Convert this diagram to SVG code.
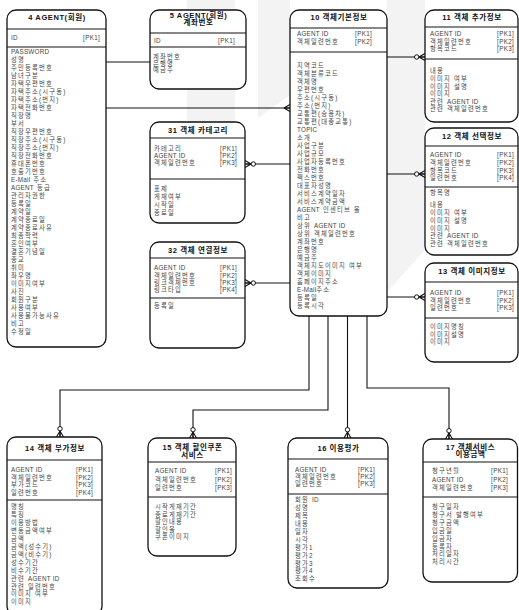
<svg xmlns="http://www.w3.org/2000/svg" width="519" height="610" viewBox="0 0 519 610">
<style>
.bx{fill:#fff;stroke:#111;stroke-width:1.3}
.ln{stroke:#111;stroke-width:1.1;fill:none}
.t{font-family:"Liberation Sans","Noto Sans CJK KR",sans-serif;font-size:7.5px;font-weight:bold;fill:#111;text-anchor:middle;letter-spacing:0.6px}
.a{font-family:"Liberation Sans","Noto Sans CJK KR",sans-serif;font-size:6.3px;fill:#444;letter-spacing:1.2px}
.e{letter-spacing:0.25px}
.k{font-family:"Liberation Sans","Noto Sans CJK KR",sans-serif;font-size:6.3px;fill:#444;text-anchor:end;letter-spacing:0.3px}
.c{stroke:#111;stroke-width:1.1;fill:none}
.wm{fill:#f3f3f3}
</style>
<defs>
<g id="cf"><path class="c" d="M-6,0 L0,-3.5 M-6,0 L0,0 M-6,0 L0,3.5"/><circle cx="-8.3" cy="0" r="2.2" fill="#fff" stroke="#111" stroke-width="1"/></g>
<g id="cfn"><path class="c" d="M-6,0 L0,-3.5 M-6,0 L0,0 M-6,0 L0,3.5"/></g>
</defs>
<rect width="519" height="610" fill="#fff"/>
<g id="watermark">
<rect class="wm" x="187" y="-12" width="48" height="170" rx="12"/>
<polygon class="wm" points="258,0 290,0 290,95 258,118"/>
<polygon class="wm" points="387,0 425,0 425,250 387,292"/>
</g>
<g id="connectors">
<path class="ln" d="M106,62 H150"/>
<path class="ln" d="M106,108 H290"/><use href="#cfn" transform="translate(290,108)"/>
<path class="ln" d="M245,164 H290"/><use href="#cf" transform="translate(245,164) rotate(180)"/>
<path class="ln" d="M245,283 H290"/><use href="#cf" transform="translate(245,283) rotate(180)"/>
<path class="ln" d="M387,57 H425"/><use href="#cf" transform="translate(425,57)"/>
<path class="ln" d="M387,174 H425"/><use href="#cf" transform="translate(425,174)"/>
<path class="ln" d="M387,297 H425"/><use href="#cf" transform="translate(425,297)"/>
<path class="ln" d="M309,316 V390 H60 V437"/><use href="#cf" transform="translate(60,437) rotate(90)"/>
<path class="ln" d="M328,316 V410 H193 V438"/><use href="#cf" transform="translate(193,438) rotate(90)"/>
<path class="ln" d="M347.5,316 V438"/><use href="#cf" transform="translate(347.5,438) rotate(90)"/>
<path class="ln" d="M367,316 V388 H449 V439"/><use href="#cf" transform="translate(449,439) rotate(90)"/>
</g>
<g id="n4">
<rect class="bx" x="7" y="10" width="99" height="337" rx="9"/>
<text class="t" x="57" y="20">4  AGENT(회원)</text>
<path class="ln" d="M7,29 H106 M7,47 H106"/>
<text class="a" x="11" y="40.3"><tspan class="e">ID</tspan></text><text class="k" x="100" y="40.3">[PK1]</text>
<text class="a" x="11" y="54.3"><tspan class="e">PASSWORD</tspan></text>
<text class="a" x="11" y="62.3">성명</text>
<text class="a" x="11" y="70.3">주민등록번호</text>
<text class="a" x="11" y="78.3">남녀구분</text>
<text class="a" x="11" y="86.3">자택우편번호</text>
<text class="a" x="11" y="94.3">자택주소(시구동)</text>
<text class="a" x="11" y="102.3">자택주소(번지)</text>
<text class="a" x="11" y="110.3">자택전화번호</text>
<text class="a" x="11" y="118.3">직장명</text>
<text class="a" x="11" y="126.3">부서</text>
<text class="a" x="11" y="134.3">직장우편번호</text>
<text class="a" x="11" y="142.3">직장주소(시구동)</text>
<text class="a" x="11" y="150.3">직장주소(번지)</text>
<text class="a" x="11" y="158.3">직장전화번호</text>
<text class="a" x="11" y="166.3">휴대폰번호</text>
<text class="a" x="11" y="174.3">호출기번호</text>
<text class="a" x="11" y="182.3"><tspan class="e">E-Mail</tspan> 주소</text>
<text class="a" x="11" y="190.3"><tspan class="e">AGENT</tspan> 등급</text>
<text class="a" x="11" y="198.3">관리자권한</text>
<text class="a" x="11" y="206.3">등록일</text>
<text class="a" x="11" y="214.3">계약일</text>
<text class="a" x="11" y="222.3">계약종료일</text>
<text class="a" x="11" y="230.3">계약종료사유</text>
<text class="a" x="11" y="238.3">최종학력</text>
<text class="a" x="11" y="246.3">혼인여부</text>
<text class="a" x="11" y="254.3">결혼기념일</text>
<text class="a" x="11" y="262.3">종교</text>
<text class="a" x="11" y="270.3">취미</text>
<text class="a" x="11" y="278.3">좌우명</text>
<text class="a" x="11" y="286.3">이미지여부</text>
<text class="a" x="11" y="294.3">사진</text>
<text class="a" x="11" y="302.3">회원구분</text>
<text class="a" x="11" y="310.3">사용여부</text>
<text class="a" x="11" y="318.3">사용불가능사유</text>
<text class="a" x="11" y="326.3">비고</text>
<text class="a" x="11" y="334.3">수정일</text>
</g>
<g id="n5">
<rect class="bx" x="150" y="10" width="96" height="79" rx="9"/>
<text class="t" x="198.5" y="17.5">5  AGENT(회원)</text>
<text class="t" x="198.5" y="25">계좌번호</text>
<path class="ln" d="M150,33 H246 M150,47 H246"/>
<text class="a" x="154" y="43.3"><tspan class="e">ID</tspan></text><text class="k" x="235" y="43.3">[PK1]</text>
<text class="a" x="153" y="59.3">계좌번호</text>
<text class="a" x="153" y="65.8">은행명</text>
<text class="a" x="153" y="72.3">예금주</text>
</g>
<g id="n10">
<rect class="bx" x="290" y="10" width="97" height="306" rx="9"/>
<text class="t" x="339" y="19.5">10  객체기본정보</text>
<path class="ln" d="M290,28 H387 M290,52 H387"/>
<text class="a" x="297" y="36.3"><tspan class="e">AGENT ID</tspan></text><text class="k" x="372" y="36.3">[PK1]</text>
<text class="a" x="297" y="44.3">객체일련번호</text><text class="k" x="372" y="44.3">[PK2]</text>
<text class="a" x="297" y="68.3">지역코드</text>
<text class="a" x="297" y="76.3">객체분류코드</text>
<text class="a" x="297" y="84.3">객체명</text>
<text class="a" x="297" y="92.3">우편번호</text>
<text class="a" x="297" y="100.3">주소(시구동)</text>
<text class="a" x="297" y="108.3">주소(번지)</text>
<text class="a" x="297" y="116.3">교통편(승용차)</text>
<text class="a" x="297" y="124.3">교통편(대중교통)</text>
<text class="a" x="297" y="132.3"><tspan class="e">TOPIC</tspan></text>
<text class="a" x="297" y="140.3">소개</text>
<text class="a" x="297" y="148.3">사업구분</text>
<text class="a" x="297" y="156.3">사업규모</text>
<text class="a" x="297" y="164.3">사업자등록번호</text>
<text class="a" x="297" y="172.3">전화번호</text>
<text class="a" x="297" y="180.3">팩스번호</text>
<text class="a" x="297" y="188.3">대표자성명</text>
<text class="a" x="297" y="196.3">서비스계약일자</text>
<text class="a" x="297" y="204.3">서비스계약금액</text>
<text class="a" x="297" y="212.3"><tspan class="e">AGENT</tspan> 인센티브 율</text>
<text class="a" x="297" y="220.3">비고</text>
<text class="a" x="297" y="228.3">상위 <tspan class="e">AGENT ID</tspan></text>
<text class="a" x="297" y="236.3">상위 객체일련번호</text>
<text class="a" x="297" y="244.3">계좌번호</text>
<text class="a" x="297" y="252.3">은행명</text>
<text class="a" x="297" y="260.3">예금주</text>
<text class="a" x="297" y="268.3">객체지도이미지 여부</text>
<text class="a" x="297" y="276.3">객체이미지</text>
<text class="a" x="297" y="284.3">홈페이지주소</text>
<text class="a" x="297" y="292.3"><tspan class="e">E-Mail</tspan>주소</text>
<text class="a" x="297" y="300.3">등록일</text>
<text class="a" x="297" y="308.3">등록시각</text>
</g>
<g id="n11">
<rect class="bx" x="425" y="10" width="93" height="112" rx="9"/>
<text class="t" x="472" y="19.5">11 객체 추가정보</text>
<path class="ln" d="M425,27 H518 M425,59 H518"/>
<text class="a" x="430" y="36.3"><tspan class="e">AGENT ID</tspan></text><text class="k" x="514" y="36.3">[PK1]</text>
<text class="a" x="430" y="43.8">객체일련번호</text><text class="k" x="514" y="43.8">[PK2]</text>
<text class="a" x="430" y="51.3">항목코드</text><text class="k" x="514" y="51.3">[PK3]</text>
<text class="a" x="430" y="73.3">내용</text>
<text class="a" x="430" y="80.9">이미지 여부</text>
<text class="a" x="430" y="88.5">이미지 설명</text>
<text class="a" x="430" y="96.1">이미지</text>
<text class="a" x="430" y="103.7">관련 <tspan class="e">AGENT ID</tspan></text>
<text class="a" x="430" y="111.3">관련 객체일련번호</text>
</g>
<g id="n12">
<rect class="bx" x="425" y="128" width="93" height="127" rx="9"/>
<text class="t" x="472" y="138.5">12 객체 선택정보</text>
<path class="ln" d="M425,146 H518 M425,187 H518"/>
<text class="a" x="430" y="157.3"><tspan class="e">AGENT ID</tspan></text><text class="k" x="514" y="157.3">[PK1]</text>
<text class="a" x="430" y="165">객체일련번호</text><text class="k" x="514" y="165">[PK2]</text>
<text class="a" x="430" y="172.7">항목코드</text><text class="k" x="514" y="172.7">[PK3]</text>
<text class="a" x="430" y="180.3">일련번호</text><text class="k" x="514" y="180.3">[PK4]</text>
<text class="a" x="430" y="195.3">항목명</text>
<text class="a" x="430" y="207.3">내용</text>
<text class="a" x="430" y="215.3">이미지 여부</text>
<text class="a" x="430" y="223.3">이미지 설명</text>
<text class="a" x="430" y="230.8">이미지</text>
<text class="a" x="430" y="238.3">관련 <tspan class="e">AGENT ID</tspan></text>
<text class="a" x="430" y="245.8">관련 객체일련번호</text>
</g>
<g id="n13">
<rect class="bx" x="425" y="263" width="93" height="99" rx="9"/>
<text class="t" x="472" y="273.5">13 객체 이미지정보</text>
<path class="ln" d="M425,282 H518 M425,318 H518"/>
<text class="a" x="430" y="295.3"><tspan class="e">AGENT ID</tspan></text><text class="k" x="514" y="295.3">[PK1]</text>
<text class="a" x="430" y="302.8">객체일련번호</text><text class="k" x="514" y="302.8">[PK2]</text>
<text class="a" x="430" y="310.3">일련번호</text><text class="k" x="514" y="310.3">[PK3]</text>
<text class="a" x="430" y="329.3">이미지명칭</text>
<text class="a" x="430" y="336.8">이미지설명</text>
<text class="a" x="430" y="344.3">이미지</text>
</g>
<g id="n31">
<rect class="bx" x="150" y="122" width="95" height="101" rx="9"/>
<text class="t" x="198" y="132.5">31 객체 카테고리</text>
<path class="ln" d="M150,138 H245 M150,179 H245"/>
<text class="a" x="154" y="151.3">카테고리</text><text class="k" x="237" y="151.3">[PK1]</text>
<text class="a" x="154" y="158.3"><tspan class="e">AGENT ID</tspan></text><text class="k" x="237" y="158.3">[PK2]</text>
<text class="a" x="154" y="165.3">객체일련번호</text><text class="k" x="237" y="165.3">[PK3]</text>
<text class="a" x="154" y="191.3">표제</text>
<text class="a" x="154" y="199.3">게재여부</text>
<text class="a" x="154" y="207.3">시작일</text>
<text class="a" x="154" y="215.3">종료일</text>
</g>
<g id="n32">
<rect class="bx" x="150" y="242" width="95" height="106" rx="9"/>
<text class="t" x="198" y="252.5">32 객체 연결정보</text>
<path class="ln" d="M150,258 H245 M150,298 H245"/>
<text class="a" x="154" y="270.3"><tspan class="e">AGENT ID</tspan></text><text class="k" x="237" y="270.3">[PK1]</text>
<text class="a" x="154" y="277.6">객체일련번호</text><text class="k" x="237" y="277.6">[PK2]</text>
<text class="a" x="154" y="285">링크객체번호</text><text class="k" x="237" y="285">[PK3]</text>
<text class="a" x="154" y="292.3">링크타입</text><text class="k" x="237" y="292.3">[PK4]</text>
<text class="a" x="154" y="308.3">등록일</text>
</g>
<g id="n14">
<rect class="bx" x="7" y="437" width="95" height="178" rx="9"/>
<text class="t" x="55" y="450.5">14 객체 부가정보</text>
<path class="ln" d="M7,460 H102 M7,500 H102"/>
<text class="a" x="11" y="472.3"><tspan class="e">AGENT ID</tspan></text><text class="k" x="93" y="472.3">[PK1]</text>
<text class="a" x="11" y="479.8">객체일련번호</text><text class="k" x="93" y="479.8">[PK2]</text>
<text class="a" x="11" y="487.3">부가코드</text><text class="k" x="93" y="487.3">[PK3]</text>
<text class="a" x="11" y="494.8">일련번호</text><text class="k" x="93" y="494.8">[PK4]</text>
<text class="a" x="11" y="509.3">명칭</text>
<text class="a" x="11" y="517.2">특징</text>
<text class="a" x="11" y="525.1">이용방법</text>
<text class="a" x="11" y="533.1">변동금액여부</text>
<text class="a" x="11" y="541">금액</text>
<text class="a" x="11" y="548.9">금액(성수기)</text>
<text class="a" x="11" y="556.8">금액(비수기)</text>
<text class="a" x="11" y="564.7">성수기간</text>
<text class="a" x="11" y="572.6">비수기간</text>
<text class="a" x="11" y="580.6">관련 <tspan class="e">AGENT ID</tspan></text>
<text class="a" x="11" y="588.5">관련 일련번호</text>
<text class="a" x="11" y="596.4">이미지 여부</text>
<text class="a" x="11" y="604.3">이미지</text>
</g>
<g id="n15">
<rect class="bx" x="148" y="438" width="88" height="118" rx="9"/>
<text class="t" x="192.5" y="450">15 객체 할인쿠폰</text>
<text class="t" x="192.5" y="457.5">서비스</text>
<path class="ln" d="M148,462 H236 M148,497 H236"/>
<text class="a" x="155" y="473.3"><tspan class="e">AGENT ID</tspan></text><text class="k" x="232" y="473.3">[PK1]</text>
<text class="a" x="155" y="481.8">객체일련번호</text><text class="k" x="232" y="481.8">[PK2]</text>
<text class="a" x="155" y="490.3">일련번호</text><text class="k" x="232" y="490.3">[PK3]</text>
<text class="a" x="155" y="509.3">시작게재기간</text>
<text class="a" x="155" y="516.8">종료게재기간</text>
<text class="a" x="155" y="524.3">할인내용</text>
<text class="a" x="155" y="531.8">할인율</text>
<text class="a" x="155" y="539.3">쿠폰이미지</text>
</g>
<g id="n16">
<rect class="bx" x="288" y="438" width="100" height="150" rx="9"/>
<text class="t" x="338.5" y="450.5">16 이용평가</text>
<path class="ln" d="M288,459 H388 M288,494 H388"/>
<text class="a" x="295" y="472.3"><tspan class="e">AGENT ID</tspan></text><text class="k" x="375" y="472.3">[PK1]</text>
<text class="a" x="295" y="479.3">객체일련번호</text><text class="k" x="375" y="479.3">[PK2]</text>
<text class="a" x="295" y="486.3">일련번호</text><text class="k" x="375" y="486.3">[PK3]</text>
<text class="a" x="295" y="502.3">회원 <tspan class="e">ID</tspan></text>
<text class="a" x="295" y="510.2">성명</text>
<text class="a" x="295" y="518.1">제목</text>
<text class="a" x="295" y="526">내용</text>
<text class="a" x="295" y="533.9">일자</text>
<text class="a" x="295" y="541.8">시각</text>
<text class="a" x="295" y="549.7">평가1</text>
<text class="a" x="295" y="557.6">평가2</text>
<text class="a" x="295" y="565.5">평가3</text>
<text class="a" x="295" y="573.4">평가4</text>
<text class="a" x="295" y="581.3">조회수</text>
</g>
<g id="n17">
<rect class="bx" x="423" y="439" width="94.5" height="143" rx="9"/>
<text class="t" x="470.5" y="449.5">17 객체서비스</text>
<text class="t" x="470.5" y="457">이용금액</text>
<path class="ln" d="M423,462 H517.5 M423,497 H517.5"/>
<text class="a" x="432" y="473.3">청구년월</text><text class="k" x="508" y="473.3">[PK1]</text>
<text class="a" x="432" y="481.8"><tspan class="e">AGENT ID</tspan></text><text class="k" x="508" y="481.8">[PK2]</text>
<text class="a" x="432" y="490.3">객체일련번호</text><text class="k" x="508" y="490.3">[PK3]</text>
<text class="a" x="432" y="509.3">청구일자</text>
<text class="a" x="432" y="517.2">청구서 발행여부</text>
<text class="a" x="432" y="525">청구금액</text>
<text class="a" x="432" y="532.9">입금일</text>
<text class="a" x="432" y="540.7">입금자</text>
<text class="a" x="432" y="548.6">등록자</text>
<text class="a" x="432" y="556.4">처리일자</text>
<text class="a" x="432" y="564.3">처리시간</text>
</g>
</svg>
